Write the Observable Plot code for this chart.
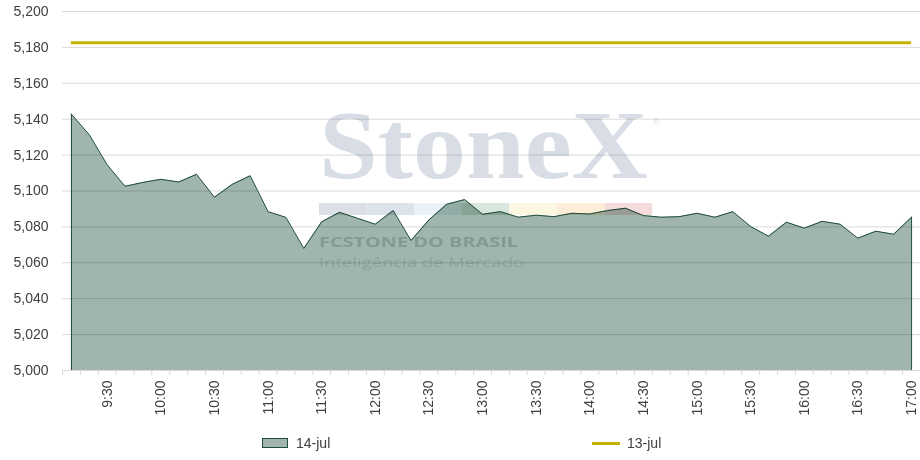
<!DOCTYPE html>
<html>
<head>
<meta charset="utf-8">
<script src="https://cdn.jsdelivr.net/npm/d3@7"></script>
<script src="https://cdn.jsdelivr.net/npm/@observablehq/plot@0.6"></script>
<style>
  html, body { margin: 0; padding: 0; background: #fff; }
  #wrap { position: relative; width: 920px; height: 460px; font-family: "Liberation Sans", Arial, sans-serif; color: #404040; }
  #chart { position: absolute; left: 0; top: 0; }
  #wm { position: absolute; left: 0; top: 0; mix-blend-mode: multiply; pointer-events: none; }
  .leg { position: absolute; font-size: 14px; color: #404040; line-height: 16px; }
</style>
</head>
<body>
<div id="wrap">
  <div id="chart"></div>
  <svg id="wm" width="920" height="425" xmlns="http://www.w3.org/2000/svg">
    <text x="319" y="178" font-family="Liberation Serif, Times New Roman, serif" font-weight="bold" font-size="97" fill="#d9dee6" textLength="329" lengthAdjust="spacingAndGlyphs">StoneX</text>
    <text x="653" y="125" font-family="Liberation Sans, sans-serif" font-size="9" fill="#d9dee6">®</text>
    <g id="strips"></g>
    <text x="319" y="247" font-family="Open Sans, Liberation Sans, sans-serif" font-weight="bold" font-size="15" fill="#d3d7dd" textLength="199" lengthAdjust="spacingAndGlyphs">FCSTONE DO BRASIL</text>
    <text x="319" y="267" font-family="Open Sans, Liberation Sans, sans-serif" font-size="13.5" fill="#e1e5ea" textLength="205" lengthAdjust="spacingAndGlyphs">Inteligência de Mercado</text>
  </svg>
  <div class="leg" style="left:262px; top:438px; width:24px; height:8px; background:#a0b5ac; border:1px solid #1e4d3b;"></div>
  <div class="leg" style="left:296px; top:435px;">14-jul</div>
  <div class="leg" style="left:592px; top:442px; width:28px; height:3px; background:#c5b300;"></div>
  <div class="leg" style="left:627px; top:435px;">13-jul</div>
</div>
<script>
// categories (10-minute intervals)
const times = ["9:10","9:20","9:30","9:40","9:50","10:00","10:10","10:20","10:30","10:40","10:50",
  "11:00","11:10","11:20","11:30","11:40","11:50","12:00","12:10","12:20","12:30","12:40","12:50",
  "13:00","13:10","13:20","13:30","13:40","13:50","14:00","14:10","14:20","14:30","14:40","14:50",
  "15:00","15:10","15:20","15:30","15:40","15:50","16:00","16:10","16:20","16:30","16:40","16:50","17:00"];
// 14-jul series
const jul14 = [5142.8,5131.3,5114.6,5102.6,5104.8,5106.5,5105.0,5109.3,5096.5,5103.7,5108.5,
  5088.5,5085.3,5068.0,5082.8,5088.1,5084.8,5081.5,5089.1,5072.4,5083.9,5092.6,5095.2,
  5087.0,5088.5,5085.4,5086.5,5085.7,5087.6,5087.2,5089.1,5090.4,5086.3,5085.4,5085.7,
  5087.6,5085.4,5088.5,5080.2,5074.8,5082.6,5079.3,5083.1,5081.5,5073.7,5077.6,5075.9,5085.4];
// 13-jul reference (close)
const jul13 = 5182.6;
// y tick labels
const yTicks = [5000,5020,5040,5060,5080,5100,5120,5140,5160,5180,5200];
// x tick labels shown
const xLabels = ["9:30","10:00","10:30","11:00","11:30","12:00","12:30","13:00","13:30","14:00","14:30","15:00","15:30","16:00","16:30","17:00"];

const data = times.map((t, i) => ({t, i, v: jul14[i]}));
const labelIdx = xLabels.map(l => times.indexOf(l));
const boundaries = d3.range(times.length + 1).map(k => k - 0.5);
const last = data.length - 1;

const chart = Plot.plot({
  width: 920, height: 425,
  marginLeft: 62, marginRight: 0, marginTop: 11, marginBottom: 55,
  x: {domain: [-0.5, times.length - 0.5], axis: null},
  y: {domain: [5000, 5200], axis: null},
  style: {fontFamily: '"Liberation Sans", Arial, sans-serif', fontSize: "14px", color: "#404040", background: "white"},
  marks: [
    Plot.areaY(data, {x: "i", y1: 5000, y2: "v", fill: "#a0b5ac"}),
    Plot.ruleY(yTicks, {stroke: "black", strokeOpacity: 0.15}),
    Plot.lineY(data, {x: "i", y: "v", stroke: "#1e4d3b", strokeWidth: 1}),
    Plot.ruleX([data[0], data[last]], {x: "i", y1: 5000, y2: "v", stroke: "#1e4d3b"}),
    Plot.ruleY([jul13], {x1: 0, x2: last, stroke: "#c5b300", strokeWidth: 3}),
    Plot.axisY({ticks: yTicks, tickSize: 0, tickPadding: 14, tickFormat: d3.format(","), label: null}),
    Plot.axisX({ticks: boundaries, tickSize: 5, tickFormat: () => "", stroke: "#d9d9d9", label: null}),
    Plot.axisX({ticks: labelIdx, tickSize: 0, tickRotate: -90, tickPadding: 10, tickFormat: i => times[i], label: null})
  ]
});
document.getElementById("chart").appendChild(chart);

// watermark color strips
const stripColors = ["#dcdfe6","#dde3eb","#ebf1f8","#d8e6de","#fcf7e3","#fdeed9","#f4dcdd"];
const g = document.getElementById("strips");
stripColors.forEach((c, k) => {
  const r = document.createElementNS("http://www.w3.org/2000/svg", "rect");
  r.setAttribute("x", 319 + k * 47.6);
  r.setAttribute("y", 203);
  r.setAttribute("width", 47.6);
  r.setAttribute("height", 12);
  r.setAttribute("fill", c);
  g.appendChild(r);
});
</script>
</body>
</html>
